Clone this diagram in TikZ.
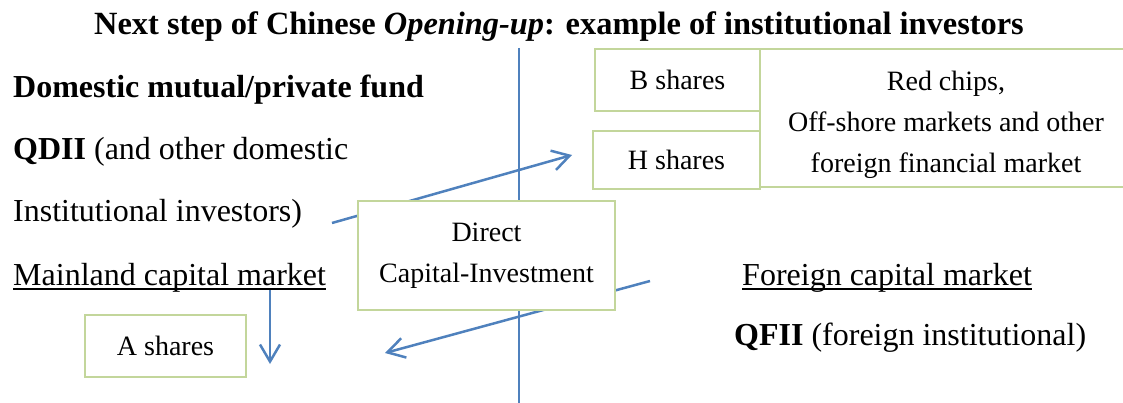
\documentclass[tikz,border=0pt]{standalone}
\usepackage{fontspec}
\setmainfont{Liberation Serif}
\usetikzlibrary{arrows.meta}

\definecolor{flowblue}{RGB}{79,129,189}
\definecolor{boxgreen}{RGB}{195,214,155}

\tikzset{
	lbl/.style={anchor=base west,inner sep=0pt,font=\fontsize{32}{38}\selectfont},
	sharebox/.style={draw=boxgreen,line width=1.5pt,fill=white,inner sep=0pt,
		align=center,font=\fontsize{28}{41}\selectfont},
	boxtext/.style={inner sep=0pt,align=center,font=\fontsize{28}{41}\selectfont},
	flow/.style={draw=flowblue,line width=2.5pt},
	underbar/.style={line width=1.6pt}
}

\begin{document}
\begin{tikzpicture}[x=1pt,y=-1pt,>={Straight Barb[length=17pt,width=20pt,line width=2.5pt]}]

\useasboundingbox (0,0) rectangle (1123,403);

\def\divx{519}

\coordinate (top) at (\divx,48);
\coordinate (bottom) at (\divx,403);
\coordinate (qdiiout) at (332,223);
\coordinate (qdiiin) at (572,155);
\coordinate (qfiiout) at (650,281);
\coordinate (qfiiin) at (385,353);
\coordinate (mainout) at (270,290);
\coordinate (mainin) at (270,364);

\draw[flow] (top)--(bottom);
\draw[flow,->] (qdiiout)--(qdiiin);
\draw[flow,->] (qfiiout)--(qfiiin);
\draw[flow,->] (mainout)--(mainin);

\node (title) at (559,35) [anchor=base,inner sep=0pt,font=\fontsize{32.4}{38}\selectfont\bfseries]
	{Next step of Chinese \textit{Opening-up}: example of institutional investors};

\node (fund) at (13,98) [lbl,font=\fontsize{32}{38}\selectfont\bfseries] {Domestic mutual/private fund};
\node (qdii) at (13,160) [lbl] {\textbf{QDII} (and other domestic};
\node (inst) at (13,222) [lbl] {Institutional investors)};
\node (mainland) at (13,285) [lbl] {Mainland capital market};
\node (foreign) at (742,285) [lbl] {Foreign capital market};
\node (qfii) at (734,345) [lbl] {\textbf{QFII} (foreign institutional)};

\draw[underbar] ([yshift=-4pt]mainland.base west)--([yshift=-4pt]mainland.base east);
\draw[underbar] ([yshift=-4pt]foreign.base west)--([yshift=-4pt]foreign.base east);

\node (bsh) at (677.5,80) [sharebox,minimum width=165pt,minimum height=62pt] {B shares};
\node (hsh) at (676.5,160) [sharebox,minimum width=167pt,minimum height=58pt] {H shares};
\node (red) at (946,118) [sharebox,minimum width=372pt,minimum height=138pt] {};
\node (redtext) at ([yshift=-7pt]red.center) [boxtext]
	{Red chips,\\Off-shore markets and other\\foreign financial market};
\node (direct) at (486.5,255.5) [sharebox,minimum width=257pt,minimum height=109pt]
	{Direct\\Capital-Investment};
\node (ash) at (165.5,346) [sharebox,minimum width=161pt,minimum height=62pt] {A shares};

\end{tikzpicture}
\end{document}
